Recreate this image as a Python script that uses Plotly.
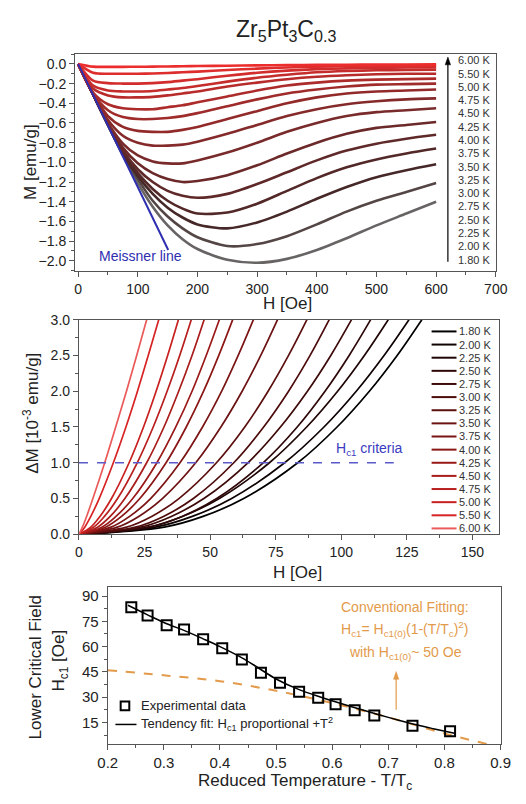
import plotly.graph_objects as go

W, HGT = 526, 804

# ---------------- data ----------------
temps = [1.80, 2.00, 2.25, 2.50, 2.75, 3.00, 3.25, 3.50, 3.75, 4.00, 4.25, 4.50, 4.75, 5.00, 5.50, 6.00]
temp_labels = [f"{t:.2f} K" for t in temps]

# Panel 1: M(H) isotherms
H_grid = [0, 25, 50, 75, 100, 125, 150, 175, 200, 250, 300, 350, 400, 450, 500, 550, 600]
M_1p80 = [0, -0.31, -0.62, -0.93, -1.21, -1.45, -1.64, -1.78, -1.88, -1.99, -2.02, -1.98, -1.89, -1.77, -1.64, -1.52, -1.40]
M_2p00 = [0, -0.31, -0.62, -0.92, -1.17, -1.39, -1.55, -1.67, -1.76, -1.85, -1.83, -1.75, -1.63, -1.50, -1.39, -1.30, -1.21]
M_2p25 = [0, -0.31, -0.62, -0.91, -1.14, -1.32, -1.46, -1.56, -1.63, -1.67, -1.61, -1.50, -1.37, -1.25, -1.15, -1.08, -1.02]
M_2p50 = [0, -0.31, -0.62, -0.90, -1.11, -1.27, -1.39, -1.47, -1.52, -1.51, -1.42, -1.29, -1.16, -1.05, -0.97, -0.91, -0.86]
M_2p75 = [0, -0.31, -0.61, -0.88, -1.07, -1.20, -1.29, -1.34, -1.36, -1.32, -1.22, -1.10, -0.98, -0.88, -0.81, -0.76, -0.72]
M_3p00 = [0, -0.31, -0.61, -0.85, -1.01, -1.11, -1.17, -1.20, -1.19, -1.13, -1.03, -0.91, -0.80, -0.71, -0.65, -0.62, -0.59]
M_3p25 = [0, -0.31, -0.60, -0.81, -0.93, -0.99, -1.01, -1.01, -0.98, -0.90, -0.80, -0.69, -0.60, -0.53, -0.49, -0.47, -0.45]
M_3p50 = [0, -0.31, -0.57, -0.73, -0.80, -0.83, -0.83, -0.82, -0.79, -0.71, -0.62, -0.53, -0.46, -0.41, -0.38, -0.36, -0.35]
M_3p75 = [0, -0.30, -0.53, -0.64, -0.68, -0.69, -0.69, -0.67, -0.64, -0.56, -0.48, -0.40, -0.34, -0.30, -0.28, -0.27, -0.26]
M_4p00 = [0, -0.30, -0.47, -0.54, -0.56, -0.56, -0.55, -0.53, -0.50, -0.43, -0.36, -0.30, -0.26, -0.23, -0.21, -0.205, -0.20]
M_4p25 = [0, -0.29, -0.41, -0.45, -0.46, -0.46, -0.44, -0.42, -0.39, -0.33, -0.27, -0.22, -0.19, -0.17, -0.16, -0.155, -0.15]
M_4p50 = [0, -0.25, -0.32, -0.34, -0.34, -0.335, -0.32, -0.30, -0.28, -0.23, -0.19, -0.155, -0.13, -0.115, -0.105, -0.10, -0.10]
M_4p75 = [0, -0.22, -0.27, -0.28, -0.28, -0.275, -0.26, -0.245, -0.225, -0.18, -0.14, -0.11, -0.085, -0.072, -0.065, -0.062, -0.06]
M_5p00 = [0, -0.17, -0.195, -0.20, -0.20, -0.195, -0.185, -0.17, -0.155, -0.12, -0.09, -0.068, -0.053, -0.045, -0.04, -0.037, -0.035]
M_5p50 = [0, -0.09, -0.10, -0.10, -0.10, -0.097, -0.092, -0.085, -0.078, -0.062, -0.048, -0.036, -0.028, -0.022, -0.019, -0.017, -0.015]
M_6p00 = [0, -0.028, -0.03, -0.03, -0.029, -0.028, -0.026, -0.024, -0.022, -0.018, -0.015, -0.012, -0.010, -0.008, -0.007, -0.006, -0.005]
M_curves = [M_1p80, M_2p00, M_2p25, M_2p50, M_2p75, M_3p00, M_3p25, M_3p50,
            M_3p75, M_4p00, M_4p25, M_4p50, M_4p75, M_5p00, M_5p50, M_6p00]

meissner_H = [0, 151]
meissner_M = [0, -1.89]

# Panel 2: Delta M vs H (field at which each Delta-M level is reached)
dM_levels = [0, 0.1, 0.25, 0.5, 1.0, 1.5, 2.0, 2.5, 3.0]
Hd_1p80 = [0, 32.5, 47.3, 62.8, 83.4, 98.4, 110.7, 121.3, 130.7]
Hd_2p00 = [0, 29.1, 43.2, 58.2, 78.4, 93.4, 105.7, 116.3, 125.8]
Hd_2p25 = [0, 26.3, 39.4, 53.5, 72.6, 86.8, 98.6, 108.8, 117.9]
Hd_2p50 = [0, 26.8, 39.3, 52.5, 70.2, 83.2, 93.8, 103.0, 111.2]
Hd_2p75 = [0, 23.6, 35.2, 47.6, 64.4, 76.8, 87.1, 96.0, 103.9]
Hd_3p00 = [0, 21.5, 32.2, 43.6, 59.0, 70.4, 79.9, 88.1, 95.4]
Hd_3p25 = [0, 18.1, 27.7, 38.1, 52.4, 63.2, 72.1, 79.9, 86.9]
Hd_3p50 = [0, 14.6, 22.8, 31.8, 44.5, 54.1, 62.2, 69.3, 75.7]
Hd_3p75 = [0, 12.2, 19.3, 27.3, 38.5, 47.1, 54.4, 60.7, 66.5]
Hd_4p00 = [0, 10.1, 16.2, 23.2, 33.2, 40.9, 47.5, 53.3, 58.6]
Hd_4p25 = [0, 8.7, 14.1, 20.5, 29.7, 36.9, 43.1, 48.5, 53.5]
Hd_4p50 = [0, 7.1, 11.9, 17.5, 25.8, 32.4, 38.0, 43.1, 47.7]
Hd_4p75 = [0, 5.6, 9.7, 14.7, 22.2, 28.3, 33.6, 38.4, 42.8]
Hd_5p00 = [0, 4.5, 8.0, 12.4, 19.1, 24.6, 29.4, 33.8, 37.9]
Hd_5p50 = [0, 2.2, 4.5, 7.7, 13.1, 17.9, 22.3, 26.4, 30.4]
Hd_6p00 = [0, 1.3, 2.9, 5.3, 9.8, 14.0, 18.1, 22.0, 25.8]
Hd_curves = [Hd_1p80, Hd_2p00, Hd_2p25, Hd_2p50, Hd_2p75, Hd_3p00, Hd_3p25, Hd_3p50,
             Hd_3p75, Hd_4p00, Hd_4p25, Hd_4p50, Hd_4p75, Hd_5p00, Hd_5p50, Hd_6p00]

crit_H = [0, 120]
crit_dM = [1.0, 1.0]

# Panel 3: lower critical field
reduced_T = [0.242, 0.271, 0.305, 0.336, 0.370, 0.404, 0.439, 0.473, 0.507, 0.541, 0.575, 0.606, 0.640, 0.675, 0.743, 0.810]
Hc1 = [83.4, 78.4, 72.6, 70.2, 64.4, 59.0, 52.4, 44.5, 38.5, 33.2, 29.7, 25.8, 22.2, 19.1, 13.1, 9.8]
fit_T = [0.236, 0.27, 0.30, 0.34, 0.37, 0.40, 0.44, 0.47, 0.50, 0.54, 0.58, 0.61, 0.65, 0.68, 0.72, 0.75, 0.78, 0.82]
fit_H = [84.5, 79.0, 74.3, 69.0, 64.6, 60.0, 53.2, 47.0, 40.8, 34.6, 30.0, 26.8, 22.8, 19.9, 16.2, 13.6, 11.3, 8.4]
conv_T = [0.2, 0.3, 0.4, 0.5, 0.6, 0.7, 0.8, 0.876]
conv_H = [46, 43, 39.5, 33.8, 26.5, 18, 8.5, 2.2]

# ---------------- styling helpers ----------------
def px(x):
    return x / W

def py(y):
    return 1 - y / HGT

def mix(c1, c2, t):
    return "rgb(%d,%d,%d)" % tuple(round(a + (b - a) * t) for a, b in zip(c1, c2))

n = len(temps)
col1 = []
for i in range(n):
    if i < 2:
        col1.append(mix((105, 100, 100), (85, 70, 70), i))
    else:
        col1.append(mix((70, 40, 40), (235, 45, 45), (i - 2) / (n - 3)))
col2 = [mix((0, 0, 0), (215, 35, 35), i / (n - 2)) for i in range(n - 1)] + ["rgb(235,90,90)"]

FONT = "Liberation Sans, Arial, sans-serif"
AX = "#555555"
TXT = "#222222"
BLUE = "#2e2eb0"
ORANGE = "#e39a4a"

fig = go.Figure()

# Panel 1
for i in range(n):
    fig.add_trace(go.Scatter(x=H_grid, y=M_curves[i], mode="lines",
                             line=dict(color=col1[i], width=2.6, shape="spline", smoothing=0.8),
                             xaxis="x", yaxis="y", showlegend=False))
fig.add_trace(go.Scatter(x=meissner_H, y=meissner_M, mode="lines",
                         line=dict(color=BLUE, width=2), xaxis="x", yaxis="y", showlegend=False))

# Panel 2
for i in range(n):
    fig.add_trace(go.Scatter(x=Hd_curves[i], y=dM_levels, mode="lines",
                             line=dict(color=col2[i], width=1.7, shape="spline", smoothing=1.0),
                             xaxis="x2", yaxis="y2", showlegend=False))
fig.add_trace(go.Scatter(x=crit_H, y=crit_dM, mode="lines",
                         line=dict(color="#5a5acc", width=1.5, dash="dash"),
                         xaxis="x2", yaxis="y2", showlegend=False))

# Panel 3
fig.add_trace(go.Scatter(x=conv_T, y=conv_H, mode="lines",
                         line=dict(color=ORANGE, width=2, dash="dash", shape="spline"),
                         xaxis="x3", yaxis="y3", showlegend=False))
fig.add_trace(go.Scatter(x=fit_T, y=fit_H, mode="lines",
                         line=dict(color="black", width=1.5, shape="spline"),
                         xaxis="x3", yaxis="y3", showlegend=False))
fig.add_trace(go.Scatter(x=reduced_T, y=Hc1, mode="markers",
                         marker=dict(symbol="square-open", size=10, color="black", line=dict(width=2)),
                         xaxis="x3", yaxis="y3", showlegend=False))

def axis(domain, rng, dtick, minor, fmt=None, size=14, tick0=0, anchor=None):
    d = dict(domain=domain, range=rng, dtick=dtick, tick0=tick0, ticks="outside", ticklen=5,
             tickwidth=1, tickcolor=AX, showline=True, linecolor=AX, linewidth=1.2, mirror=True,
             showgrid=False, zeroline=False, tickfont=dict(size=size, color=TXT, family=FONT),
             minor=dict(ticks="outside", ticklen=3, dtick=minor, tickcolor=AX, showgrid=False),
             anchor=anchor)
    if fmt:
        d["tickformat"] = fmt
    return d

annotations = []
shapes = []

def txt(x, y, s, size=14, color=TXT, xanchor="center", angle=0):
    annotations.append(dict(x=px(x), y=py(y), xref="paper", yref="paper", text=s, showarrow=False,
                            font=dict(size=size, color=color, family=FONT), xanchor=xanchor,
                            yanchor="middle", textangle=angle))

def arrow_up(x, y_tail, y_tip, color, width=1.2, head=8, half=2.8):
    shapes.append(dict(type="line", xref="paper", yref="paper", x0=px(x), x1=px(x),
                       y0=py(y_tail), y1=py(y_tip + head - 1), line=dict(color=color, width=width)))
    path = "M %f %f L %f %f L %f %f Z" % (px(x), py(y_tip), px(x - half), py(y_tip + head),
                                          px(x + half), py(y_tip + head))
    shapes.append(dict(type="path", xref="paper", yref="paper", path=path,
                       fillcolor=color, line=dict(color=color, width=0.5)))

# title
txt(288, 23, "Zr<sub>5</sub>Pt<sub>3</sub>C<sub>0.3</sub>", size=23)
# panel 1 titles
txt(290, 301, "H [Oe]", size=17)
txt(22, 157, "M [emu/g]", size=17, angle=-90)
txt(136, 253, "Meissner line", size=14, color=BLUE)
# panel 1 temperature column
for i in range(n):
    yy = 256.7 - i * (256.7 - 53.3) / (n - 1)
    txt(465, yy, temp_labels[i], size=11, color="#333333", xanchor="left")
arrow_up(457, 259, 50, "black")

# panel 2 titles
txt(300, 576, "H [Oe]", size=17)
txt(22, 414, "ΔM [10<sup>-3</sup> emu/g]", size=17, angle=-90)
txt(375, 450, "H<sub>c1</sub> criteria", size=14, color="#3b3bc0")
for i in range(n):
    yy = 330 + i * 13.4
    shapes.append(dict(type="line", xref="paper", yref="paper", x0=px(440), x1=px(466),
                       y0=py(yy), y1=py(yy), line=dict(color=col2[i], width=2)))
    txt(467, yy, temp_labels[i], size=11, color="#333333", xanchor="left")

# panel 3 titles
txt(308, 790, "Reduced Temperature - T/T<sub>c</sub>", size=17)
txt(27, 672, "Lower Critical Field", size=17, angle=-90)
txt(52, 666, "H<sub>c1</sub> [Oe]", size=17, angle=-90)
shapes.append(dict(type="rect", xref="paper", yref="paper", x0=px(115.5), x1=px(124.5),
                   y0=py(716.5), y1=py(707.5), line=dict(color="black", width=2)))
txt(135, 712, "Experimental data", size=13, xanchor="left")
shapes.append(dict(type="line", xref="paper", yref="paper", x0=px(110), x1=px(132),
                   y0=py(731), y1=py(731), line=dict(color="black", width=1.5)))
txt(135, 731, "Tendency fit: H<sub>c1</sub> proportional +T<sup>2</sup>", size=13, xanchor="left")
txt(412, 611, "Conventional Fitting:", size=14, color=ORANGE)
txt(412, 634, "H<sub>c1</sub>= H<sub>c1(0)</sub>(1-(T/T<sub>c</sub>)<sup>2</sup>)", size=14, color=ORANGE)
txt(413, 658, "with H<sub>c1(0)</sub>~ 50 Oe", size=14, color=ORANGE)
arrow_up(403, 716, 677, ORANGE)

fig.update_layout(
    width=W, height=HGT, margin=dict(l=0, r=0, t=0, b=0),
    paper_bgcolor="white", plot_bgcolor="white",
    font=dict(family=FONT, color=TXT),
    showlegend=False,
    xaxis=axis([68 / W, 507 / W], [-5, 700], 100, 50, anchor="y"),
    yaxis=axis([py(268), py(47)], [-2.1, 0.1], 0.2, 0.1, fmt=".1f", anchor="x"),
    xaxis2=axis([72 / W, 510 / W], [0, 160], 25, 12.5, anchor="y2"),
    yaxis2=axis([py(537), py(318)], [0, 3], 0.5, 0.25, fmt=".1f", anchor="x2"),
    xaxis3=axis([102 / W, 512 / W], [0.2, 0.9], 0.1, 0.05, fmt=".1f", size=15, anchor="y3"),
    yaxis3=axis([py(751), py(591)], [2.2, 95.2], 15, 7.5, size=15, anchor="x3"),
    annotations=annotations, shapes=shapes,
)

fig.write_html("out.html")
